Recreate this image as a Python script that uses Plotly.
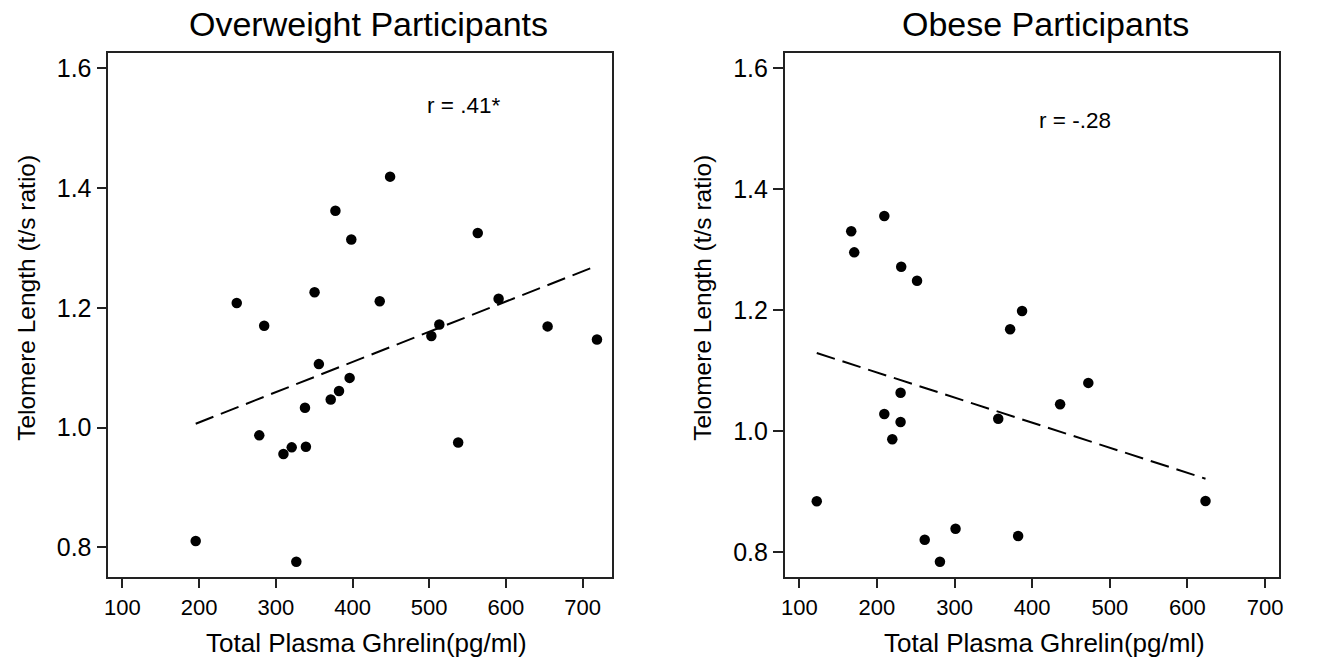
import numpy as np
import plotly.graph_objects as go

# ---------------- data ----------------
ow_ghrelin = [449, 377.7, 398.4, 563.3, 249, 350.5, 435.5, 590.5, 284.8, 513.2,
              502.8, 654.4, 718.8, 356.1, 396.2, 382.4, 371.6, 338, 278.4, 320.7,
              309.9, 339.2, 537.8, 195.5, 326.7]
ow_telomere = [1.419, 1.362, 1.314, 1.325, 1.208, 1.226, 1.211, 1.215, 1.170, 1.172,
               1.153, 1.169, 1.147, 1.106, 1.083, 1.061, 1.047, 1.033, 0.987, 0.967,
               0.956, 0.968, 0.975, 0.8105, 0.776]

ob_ghrelin = [209.5, 166.9, 170.8, 231.3, 251.7, 387.0, 371.6, 472.3, 436.0, 230.5,
              209.5, 356.3, 230.5, 219.8, 122.5, 623.3, 301.3, 381.9, 261.6, 281.2]
ob_telomere = [1.356, 1.3306, 1.2958, 1.272, 1.249, 1.199, 1.1686, 1.080, 1.0446, 1.0638,
               1.0286, 1.0208, 1.0154, 0.9868, 0.8843, 0.8848, 0.839, 0.827, 0.8209, 0.7845]

titles = ["Overweight Participants", "Obese Participants"]
r_labels = ["r = .41*", "r = -.28"]
x_title = "Total Plasma Ghrelin(pg/ml)"
y_title = "Telomere Length (t/s ratio)"
x_ticks = [100, 200, 300, 400, 500, 600, 700]
y_ticks = [0.8, 1.0, 1.2, 1.4, 1.6]
y_tick_text = ["0.8", "1.0", "1.2", "1.4", "1.6"]

# ---------------- layout geometry ----------------
W, H = 1333, 663
FONT = "Liberation Sans, Arial, Helvetica, sans-serif"


def px_x(p):
    return p / W


def px_y(p):
    return 1 - p / H


fig = go.Figure()

panels = [
    dict(x=ow_ghrelin, y=ow_telomere, xa="x", ya="y",
         dom_x=[px_x(105), px_x(612.3)], xr=[81.5, 738.6], yr=[0.751, 1.625],
         title_x=366.7, r_x=463, r_y=105, ytitle_x=22.5),
    dict(x=ob_ghrelin, y=ob_telomere, xa="x2", ya="y2",
         dom_x=[px_x(786), px_x(1283.3)], xr=[81.2, 717.5], yr=[0.7597, 1.6248],
         title_x=1048.8, r_x=1078.3, r_y=120, ytitle_x=703),
]

dom_y = [px_y(576.7), px_y(53.3)]

annotations = []
for i, p in enumerate(panels):
    xs = np.array(p["x"])
    ys = np.array(p["y"])
    slope, intercept = np.polyfit(xs, ys, 1)
    fx = np.array([xs.min(), xs.max()])
    fy = intercept + slope * fx

    fig.add_trace(go.Scatter(
        x=fx, y=fy, mode="lines", xaxis=p["xa"], yaxis=p["ya"],
        line=dict(color="black", width=2, dash="19px,8px"),
        showlegend=False, hoverinfo="skip"))
    fig.add_trace(go.Scatter(
        x=xs, y=ys, mode="markers", xaxis=p["xa"], yaxis=p["ya"],
        marker=dict(color="black", size=10.5, line=dict(width=0)),
        showlegend=False))

    axis_common = dict(
        showgrid=False, zeroline=False, showline=True, mirror=True,
        linecolor="#222", linewidth=1.5, ticks="outside", ticklen=10,
        tickwidth=1.5, tickcolor="#222")

    xkey = "xaxis" if i == 0 else "xaxis2"
    ykey = "yaxis" if i == 0 else "yaxis2"
    fig.update_layout(**{
        xkey: dict(domain=p["dom_x"], range=p["xr"], anchor=p["ya"],
                   tickmode="array", tickvals=x_ticks,
                   tickfont=dict(family=FONT, size=22, color="black"),
                   **axis_common),
        ykey: dict(domain=dom_y, range=p["yr"], anchor=p["xa"],
                   tickmode="array", tickvals=y_ticks, ticktext=y_tick_text,
                   tickfont=dict(family=FONT, size=25, color="black"),
                   **axis_common),
    })

    # panel title
    annotations.append(dict(
        text=titles[i], x=px_x(p["title_x"]), y=px_y(24.5), xref="paper", yref="paper",
        xanchor="center", yanchor="middle", showarrow=False,
        font=dict(family=FONT, size=34, color="black")))
    # correlation label
    annotations.append(dict(
        text=r_labels[i], x=px_x(p["r_x"]), y=px_y(p["r_y"]), xref="paper", yref="paper",
        xanchor="center", yanchor="middle", showarrow=False,
        font=dict(family=FONT, size=22.5, color="black")))
    # x-axis title
    annotations.append(dict(
        text=x_title, x=px_x(p["title_x"] - 1.5), y=px_y(643), xref="paper", yref="paper",
        xanchor="center", yanchor="middle", showarrow=False,
        font=dict(family=FONT, size=26, color="black")))
    # y-axis title
    annotations.append(dict(
        text=y_title, x=px_x(p["ytitle_x"]), y=px_y(297.5), xref="paper", yref="paper",
        xanchor="center", yanchor="middle", showarrow=False, textangle=-90,
        font=dict(family=FONT, size=24.5, color="black")))

fig.update_layout(
    width=W, height=H, autosize=False,
    margin=dict(l=0, r=0, t=0, b=0),
    paper_bgcolor="white", plot_bgcolor="white",
    annotations=annotations,
    font=dict(family=FONT, color="black"),
)

fig.write_html(
    "out.html",
    config={"displayModeBar": False},
    post_script="document.body.style.margin='0';document.body.style.overflow='hidden';",
)
